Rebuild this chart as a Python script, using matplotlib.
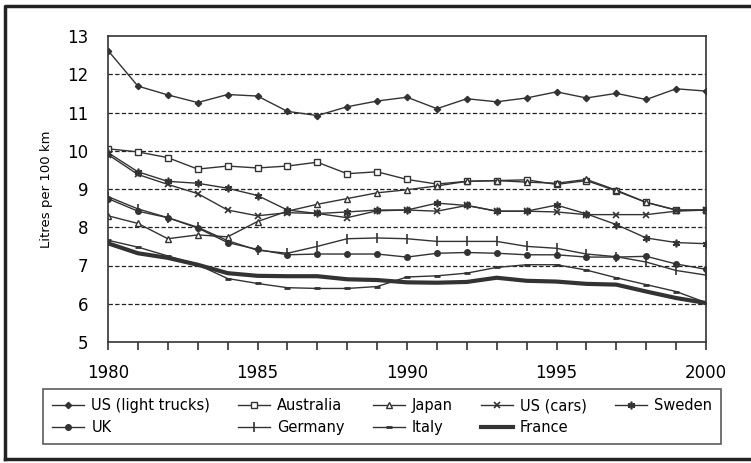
import numpy as np
import matplotlib.pyplot as plt
from matplotlib.lines import Line2D

years = np.arange(1980, 2001)

us_trucks = [12.62, 11.69, 11.46, 11.26, 11.47, 11.43, 11.03, 10.92, 11.15, 11.30,
             11.40, 11.10, 11.36, 11.28, 11.38, 11.54, 11.38, 11.50, 11.34, 11.62, 11.56]
australia = [10.05, 9.97, 9.82, 9.52, 9.60, 9.55, 9.60, 9.70, 9.40, 9.45,
             9.25, 9.13, 9.20, 9.22, 9.24, 9.12, 9.22, 8.95, 8.65, 8.45, 8.45]
japan = [8.30, 8.10, 7.70, 7.80, 7.75, 8.15, 8.42, 8.60, 8.75, 8.90,
         8.98, 9.08, 9.20, 9.22, 9.18, 9.15, 9.25, 8.97, 8.65, 8.45, 8.45]
us_cars = [9.90, 9.38, 9.12, 8.88, 8.45, 8.30, 8.38, 8.36, 8.25, 8.43,
           8.45, 8.42, 8.57, 8.42, 8.42, 8.40, 8.33, 8.33, 8.33, 8.42, 8.45]
sweden = [9.95, 9.45, 9.20, 9.15, 9.02, 8.83, 8.45, 8.36, 8.40, 8.45,
          8.45, 8.63, 8.57, 8.42, 8.42, 8.58, 8.35, 8.07, 7.72, 7.60, 7.57]
uk = [8.75, 8.42, 8.25, 7.98, 7.60, 7.42, 7.28, 7.30, 7.30, 7.30,
      7.22, 7.32, 7.34, 7.32, 7.28, 7.28, 7.22, 7.22, 7.24, 7.04, 6.90]
germany = [8.80, 8.48, 8.25, 8.00, 7.65, 7.40, 7.32, 7.50, 7.70, 7.72,
           7.70, 7.63, 7.63, 7.63, 7.50, 7.45, 7.30, 7.23, 7.09, 6.87, 6.75]
italy = [7.66, 7.48, 7.25, 7.02, 6.66, 6.53, 6.42, 6.40, 6.40, 6.45,
         6.70, 6.73, 6.80, 6.95, 7.02, 7.02, 6.88, 6.68, 6.50, 6.32, 6.03]
france = [7.58, 7.32, 7.20, 7.02, 6.80, 6.73, 6.72, 6.72, 6.64, 6.62,
          6.56, 6.55, 6.57, 6.68, 6.60, 6.58, 6.52, 6.50, 6.32, 6.15, 6.02]

ink = '#333333'
plt.rcParams['font.family'] = ['DejaVu Sans']

fig = plt.figure(figsize=(7.51, 4.63), dpi=100)
ax = fig.add_axes([108/751, 1-342/463, 598/751, 306/463])

for v in range(6, 13):
    ax.axhline(v, color='#222222', lw=0.9, ls=(0, (3.5, 1.8)), zorder=1)

ms = 4
ax.plot(years, us_trucks, color=ink, lw=1, marker='D', ms=3.2, label='US (light trucks)')
ax.plot(years, uk, color=ink, lw=1, marker='o', ms=ms, label='UK')
ax.plot(years, australia, color=ink, lw=1, marker='s', ms=ms, mfc='white', label='Australia')
ax.plot(years, germany, color=ink, lw=1, marker='|', ms=6.5, mew=1.2, label='Germany')
ax.plot(years, japan, color=ink, lw=1, marker='^', ms=ms, mfc='white', label='Japan')
ax.plot(years, italy, color=ink, lw=1, marker='_', ms=4, mew=2, label='Italy')
ax.plot(years, us_cars, color=ink, lw=1, marker='x', ms=4.5, mew=1.2, label='US (cars)')
ax.plot(years, france, color=ink, lw=3, label='France')
ax.plot(years, sweden, color=ink, lw=1, marker=(6, 2, 0), ms=5.5, mew=1.2, label='Sweden')

ax.set_xlim(1980, 2000)
ax.set_ylim(5, 13)
ax.set_xticks(range(1980, 2001, 5))
ax.set_xticks(range(1980, 2001), minor=True)
ax.set_yticks(range(5, 14))
ax.tick_params(axis='x', which='both', direction='out', length=6, width=1.2,
               color=ink, labelsize=12, pad=10)
ax.tick_params(axis='y', length=0, labelsize=12, pad=14)
for s in ax.spines.values():
    s.set_color(ink)
    s.set_linewidth(1.2)
ax.set_ylabel('Litres per 100 km', fontsize=9.5, labelpad=10)

leg = fig.legend(ncol=5, loc='center', bbox_to_anchor=(47/751, 1-445/463, 670/751, 57/463),
                 frameon=True, fancybox=False, fontsize=10.5, handlelength=2.2,
                 columnspacing=1.9, handletextpad=0.5, labelspacing=0.45,
                 borderpad=0.6, borderaxespad=0)
leg.get_frame().set_edgecolor(ink)
leg.get_frame().set_linewidth(1.2)

# scanned page border
fig.add_artist(Line2D([5/751, 5/751, 1.0], [1-459/463, 1-6/463, 1-6/463],
                      transform=fig.transFigure, color='#222222', lw=2.5))
fig.add_artist(Line2D([5/751, 1.0], [1-459/463, 1-459/463],
                      transform=fig.transFigure, color='#222222', lw=2.5))

fig.savefig('out.png', dpi=100)
